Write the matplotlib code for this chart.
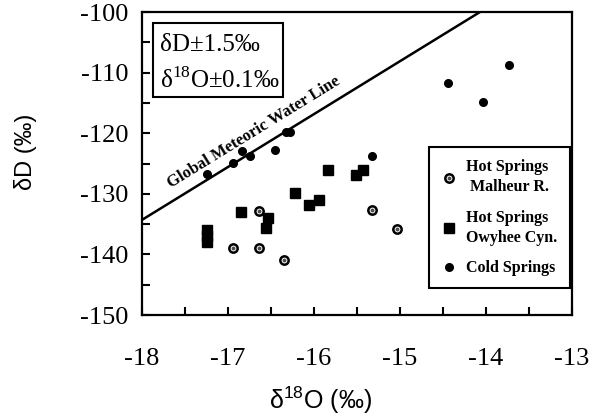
import numpy as np
import matplotlib

matplotlib.use("Agg")
import matplotlib.pyplot as plt
from matplotlib.ticker import MultipleLocator
from matplotlib.patches import Rectangle
from matplotlib.legend_handler import HandlerTuple

plt.rcParams["font.family"] = ["Liberation Serif", "DejaVu Serif"]
plt.rcParams["mathtext.fontset"] = "custom"
plt.rcParams["mathtext.rm"] = "Liberation Serif"
plt.rcParams["mathtext.sf"] = "Liberation Sans"

# Hot springs, Malheur River
malheur_o = [-16.64, -16.94, -16.64, -16.35, -15.33, -15.04]
malheur_d = [-132.8, -138.9, -138.9, -140.9, -132.7, -135.8]

# Hot springs, Owyhee Canyon
owyhee_o = [-17.24, -17.24, -17.24, -16.85, -16.54, -16.56, -16.22, -16.06,
            -15.94, -15.84, -15.51, -15.43]
owyhee_d = [-136.0, -137.0, -138.0, -133.0, -134.0, -135.7, -129.8, -131.8,
            -131.0, -126.1, -126.9, -126.0]

# Cold springs
cold_o = [-17.24, -16.94, -16.84, -16.74, -16.45, -16.32, -16.28, -15.33,
          -13.73, -14.44, -14.03]
cold_d = [-126.7, -124.9, -122.9, -123.7, -122.8, -119.8, -119.8, -123.7,
          -108.7, -111.7, -114.8]

# Global meteoric water line end points
gmwl_o = [-18.0, -14.07]
gmwl_d = [-134.3, -100.0]

fig = plt.figure(figsize=(6.09, 4.2), dpi=100)
ax = fig.add_axes([0.2332, 0.25, 0.706, 0.7214])

ax.plot(gmwl_o, gmwl_d, color="black", linewidth=1.8, zorder=2)

h_ring, = ax.plot(malheur_o, malheur_d, "o", ms=6, mfc="white", mec="black",
                  mew=1.8, linestyle="none", zorder=3)
h_dot, = ax.plot(malheur_o, malheur_d, "o", ms=1.8, color="0.3",
                 linestyle="none", zorder=4)
h_sq, = ax.plot(owyhee_o, owyhee_d, "s", ms=7.5, color="black",
                linestyle="none", zorder=3)
h_cold, = ax.plot(cold_o, cold_d, "o", ms=5.5, color="black",
                  linestyle="none", zorder=3)

ax.set_xlim(-18, -13)
ax.set_ylim(-150, -100)
ax.xaxis.set_minor_locator(MultipleLocator(0.5))
ax.yaxis.set_minor_locator(MultipleLocator(5))
ax.set_xticks([-18, -17, -16, -15, -14, -13])
ax.set_xticklabels(["-18", "-17", "-16", "-15", "-14", "-13"])
ax.set_yticks([-100, -110, -120, -130, -140, -150])
ax.set_yticklabels(["-100", "-110", "-120", "-130", "-140", "-150"])
ax.tick_params(which="both", direction="in", top=False, right=False,
               width=1.5, length=6, labelsize=19)
ax.tick_params(axis="x", pad=24)
ax.tick_params(axis="y", pad=10)
for s in ax.spines.values():
    s.set_linewidth(1.6)

ax.set_xlabel(r"δ$^{\mathsf{18}}$O (‰)", family="Liberation Sans", fontsize=18)
ax.xaxis.set_label_coords(0.416, -0.231)
ax.set_ylabel("δD (‰)", family="Liberation Sans", fontsize=17, va="center")
ax.yaxis.set_label_coords(-0.272, 0.538)

# label along the water line
fig.canvas.draw()
p1 = ax.transData.transform((gmwl_o[0], gmwl_d[0]))
p2 = ax.transData.transform((gmwl_o[1], gmwl_d[1]))
ang = np.degrees(np.arctan2(p2[1] - p1[1], p2[0] - p1[0]))
ax.text(-16.70, -119.8, "Global Meteoric Water Line", rotation=ang,
        rotation_mode="anchor", ha="center", va="center", fontsize=12,
        fontweight="bold")

# precision box
ax.add_patch(Rectangle((0.026, 0.719), 0.302, 0.245, transform=ax.transAxes,
                       fc="white", ec="black", lw=1.5, zorder=5))
ax.text(0.042, 0.891, "δD±1.5‰", transform=ax.transAxes, ha="left",
        va="center", fontsize=18, zorder=6)
ax.text(0.042, 0.776, "δ$^{18}$O±0.1‰", transform=ax.transAxes, ha="left",
        va="center", fontsize=18, zorder=6)

leg = ax.legend([(h_ring, h_dot), h_sq, h_cold],
                ["Hot Springs\nMalheur R.", "Hot Springs\nOwyhee Cyn.",
                 "Cold Springs"],
                handler_map={tuple: HandlerTuple(ndivide=1)},
                loc="upper left", bbox_to_anchor=(0.667, 0.554),
                borderaxespad=0, fancybox=False, edgecolor="black",
                framealpha=1, handletextpad=0.6, labelspacing=0.9,
                handlelength=1.0, borderpad=0.75,
                prop={"weight": "bold", "size": 11.5})
leg.get_frame().set_linewidth(1.5)
for t in leg.get_texts():
    t.set_linespacing(1.35)
leg.get_texts()[0].set_multialignment("right")

fig.savefig("out.png", dpi=100)
